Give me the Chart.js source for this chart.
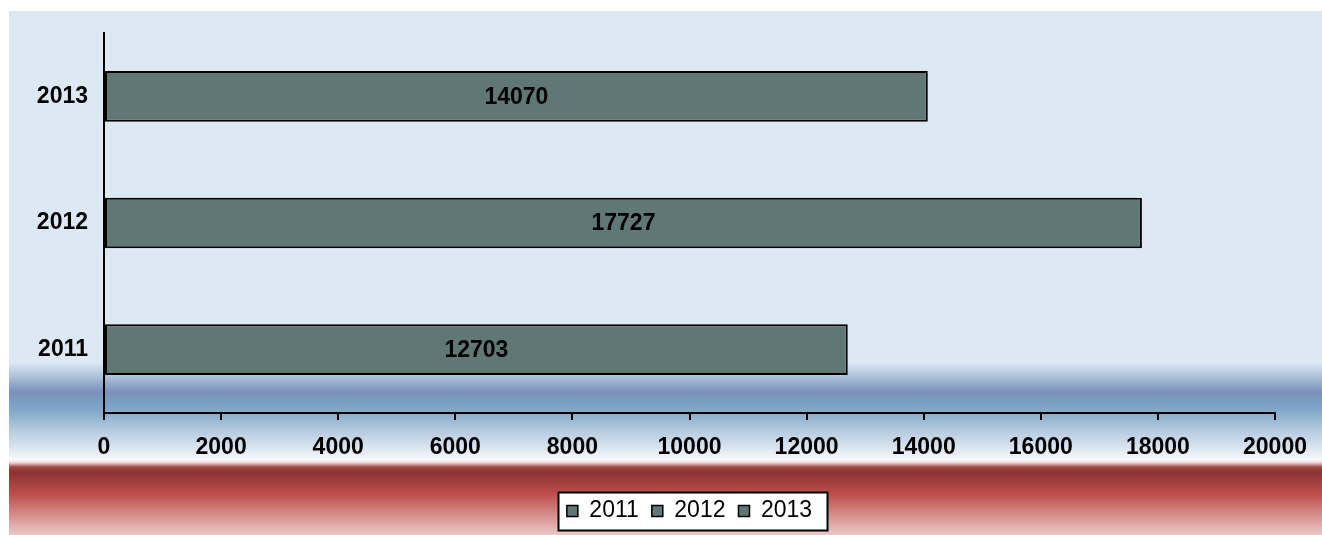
<!DOCTYPE html>
<html>
<head>
<meta charset="utf-8">
<style>
  html, body { margin: 0; padding: 0; background: #ffffff; }
  #wrap { width: 1322px; height: 535px; }
</style>
<script src="https://cdn.jsdelivr.net/npm/chart.js@4/dist/chart.umd.min.js"></script>
</head>
<body>
<div id="wrap"><canvas id="c" width="1322" height="535"></canvas></div>
<script>
const categories = ['2011', '2012', '2013'];
const values = [12703, 17727, 14070];
const xTicks = [0, 2000, 4000, 6000, 8000, 10000, 12000, 14000, 16000, 18000, 20000];

const barColor = '#5f7775';
const FONT = '"Liberation Sans", Arial, Helvetica, sans-serif';

// background gradient stops: [y pixel, colour]
const bgStops = [
  [11, '#dce9f4'], [362, '#dce9f4'], [375, '#b3c6dd'], [392, '#7890bb'],
  [410, '#80a8c8'], [430, '#b4cadf'], [450, '#dfe8f1'], [460, '#f8fafc'],
  [463, '#e6cfce'], [467, '#a04a47'], [472, '#8a3330'], [495, '#c0504d'],
  [515, '#d48e8c'], [535, '#ebc9c7']
];

const bgPlugin = {
  id: 'bg',
  afterUpdate(chart) {
    const lg = chart.legend;
    if (!lg || !lg.legendHitBoxes) return;
    const ca = chart.chartArea;
    const targetCenterX = (ca.left + ca.right) / 2;
    const hb = lg.legendHitBoxes;
    const minL = Math.min(...hb.map(h => h.left));
    const maxR = Math.max(...hb.map(h => h.left + h.width));
    const dx = targetCenterX - (minL + maxR) / 2;
    const itemC = hb[0].top + hb[0].height / 2;
    const dy = 511 - itemC;
    lg.left += dx; lg.right += dx;
    lg.top += dy; lg.bottom += dy;
    hb.forEach(h => { h.left += dx; h.top += dy; });
  },
  beforeDraw(chart) {
    const ctx = chart.ctx;
    ctx.save();
    ctx.fillStyle = '#ffffff';
    ctx.fillRect(0, 0, chart.width, chart.height);
    const y0 = 11, y1 = 535;
    const g = ctx.createLinearGradient(0, y0, 0, y1);
    bgStops.forEach(([y, c]) => g.addColorStop((y - y0) / (y1 - y0), c));
    ctx.fillStyle = g;
    ctx.fillRect(9, y0, chart.width - 9, y1 - y0);
    const lg = chart.legend;
    if (lg && lg.legendHitBoxes && lg.legendHitBoxes.length) {
      const hb = lg.legendHitBoxes;
      const minL = Math.min(...hb.map(h => h.left));
      const maxR = Math.max(...hb.map(h => h.left + h.width));
      const c = hb[0].top + hb[0].height / 2;
      const x = Math.round(minL - 9) + 0.5, w = Math.round(maxR - minL + 24);
      const y = Math.round(c - 19) + 0.5, h = 38;
      ctx.fillStyle = '#ffffff';
      ctx.fillRect(x, y, w, h);
      ctx.strokeStyle = '#000000';
      ctx.lineWidth = 2;
      ctx.strokeRect(x, y, w, h);
    }
    ctx.restore();
  }
};

const labelPlugin = {
  id: 'barLabels',
  afterDatasetsDraw(chart) {
    const ctx = chart.ctx;
    const meta = chart.getDatasetMeta(0);
    ctx.save();
    ctx.font = 'bold 23px ' + FONT;
    ctx.fillStyle = '#000000';
    ctx.textAlign = 'center';
    ctx.textBaseline = 'middle';
    meta.data.forEach((bar, i) => {
      const p = bar.getProps(['x', 'y', 'base'], true);
      ctx.fillText(String(values[i]), (p.x + p.base) / 2, p.y + 1);
    });
    ctx.restore();
  }
};

new Chart(document.getElementById('c'), {
  type: 'bar',
  data: {
    labels: categories,
    datasets: [{
      label: 'Series',
      data: values,
      backgroundColor: barColor,
      borderColor: '#000000',
      borderWidth: 2,
      borderSkipped: false,
      barPercentage: 0.5,
      categoryPercentage: 0.8
    }]
  },
  options: {
    indexAxis: 'y',
    responsive: false,
    animation: false,
    devicePixelRatio: 1,
    layout: { padding: { left: 0, top: 33, right: 47, bottom: 0 } },
    scales: {
      x: {
        min: 0, max: 20000,
        afterBuildTicks(s) { s.ticks = xTicks.map(v => ({ value: v })); },
        afterFit(s) { s.height = 535 - 413 - (s.chart.legend ? s.chart.legend.height : 0); },
        grid: { display: true, drawOnChartArea: false, drawTicks: true, tickLength: 7, color: '#000000', lineWidth: 2 },
        border: { display: true, color: '#000000', width: 2 },
        ticks: {
          color: '#000000', font: { family: FONT, size: 23, weight: 'bold' }, padding: 14, maxRotation: 0, autoSkip: false,
          callback: (v) => String(v)
        }
      },
      y: {
        reverse: true,
        afterFit(s) { s.width = 104; },
        grid: { display: false, drawOnChartArea: false, drawTicks: false },
        border: { display: true, color: '#000000', width: 2 },
        ticks: { color: '#000000', font: { family: FONT, size: 23, weight: 'bold' }, padding: 16 }
      }
    },
    plugins: {
      tooltip: { enabled: false },
      legend: {
        display: true,
        position: 'bottom',
        labels: {
          color: '#000000',
          font: { family: FONT, size: 23 },
          boxWidth: 11,
          boxHeight: 11,
          padding: 13,
          generateLabels() {
            return categories.map((c, i) => ({
              text: c, fillStyle: barColor, strokeStyle: '#000000', lineWidth: 1.5, hidden: false, index: i
            }));
          }
        }
      }
    }
  },
  plugins: [bgPlugin, labelPlugin]
});
</script>
</body>
</html>
